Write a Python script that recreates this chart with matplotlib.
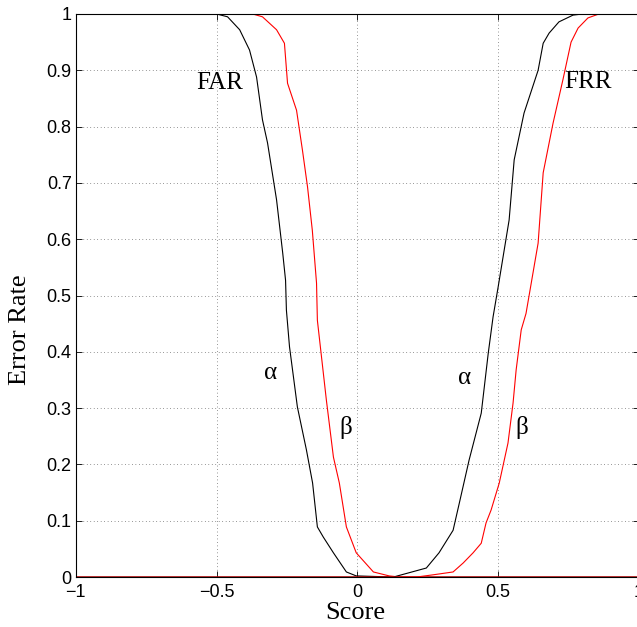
import matplotlib.pyplot as plt
import numpy as np

# FAR / FRR curves (score, error rate)
far_alpha_x = [-1.0, -0.5, -0.461, -0.418, -0.383, -0.358, -0.337, -0.319, -0.287, -0.265, -0.255,
               -0.252, -0.241, -0.213, -0.181, -0.159, -0.142, -0.121, -0.085, -0.039, -0.004, 0.128, 1.0]
far_alpha_y = [1.0, 1.0, 0.995, 0.972, 0.936, 0.888, 0.812, 0.771, 0.670, 0.575, 0.527,
               0.474, 0.409, 0.302, 0.226, 0.167, 0.089, 0.071, 0.043, 0.009, 0.002, 0.0, 0.0]

far_beta_x = [-1.0, -0.372, -0.337, -0.287, -0.259, -0.248, -0.216, -0.195, -0.177, -0.160, -0.145,
              -0.142, -0.110, -0.085, -0.064, -0.039, -0.004, 0.057, 0.113, 0.15, 1.0]
far_beta_y = [1.0, 1.0, 0.995, 0.972, 0.948, 0.877, 0.829, 0.758, 0.693, 0.616, 0.522,
              0.456, 0.314, 0.213, 0.167, 0.089, 0.043, 0.009, 0.002, 0.0, 0.0]

frr_alpha_x = [-1.0, 0.128, 0.245, 0.290, 0.340, 0.362, 0.397, 0.440, 0.465, 0.482, 0.500,
               0.539, 0.557, 0.592, 0.642, 0.660, 0.681, 0.716, 0.766, 0.800, 1.0]
frr_alpha_y = [0.0, 0.0, 0.016, 0.043, 0.083, 0.131, 0.208, 0.291, 0.398, 0.462, 0.515,
               0.634, 0.741, 0.824, 0.900, 0.948, 0.966, 0.986, 0.998, 1.0, 1.0]

frr_beta_x = [-1.0, 0.21, 0.270, 0.340, 0.376, 0.411, 0.440, 0.457, 0.475, 0.504, 0.535, 0.553,
              0.564, 0.582, 0.599, 0.642, 0.660, 0.695, 0.730, 0.759, 0.784, 0.819, 0.858, 1.0]
frr_beta_y = [0.0, 0.0, 0.004, 0.009, 0.025, 0.043, 0.060, 0.096, 0.119, 0.167, 0.238, 0.309,
              0.368, 0.439, 0.468, 0.593, 0.718, 0.806, 0.883, 0.950, 0.975, 0.993, 1.0, 1.0]

x_ticks = [-1, -0.5, 0, 0.5, 1]
x_tick_labels = ["\u22121", "\u22120.5", "0", "0.5", "1"]
y_ticks = [0, 0.1, 0.2, 0.3, 0.4, 0.5, 0.6, 0.7, 0.8, 0.9, 1.0]
y_tick_labels = ["0", "0.1", "0.2", "0.3", "0.4", "0.5", "0.6", "0.7", "0.8", "0.9", "1"]

serif = "Liberation Serif"
sans = "Liberation Sans"

fig = plt.figure(figsize=(6.37, 6.27), dpi=100)
ax = fig.add_axes([0.119, 0.0797, 0.884, 0.898])

ax.plot(far_alpha_x, far_alpha_y, color="black", lw=0.8)
ax.plot(far_beta_x, far_beta_y, color="red", lw=0.8)
ax.plot(frr_alpha_x, frr_alpha_y, color="black", lw=0.8)
ax.plot(frr_beta_x, frr_beta_y, color="red", lw=0.8)

ax.set_xlim(-1, 1)
ax.set_ylim(0, 1)
ax.set_xticks(x_ticks)
ax.set_xticklabels(x_tick_labels, fontfamily=sans, fontsize=13)
ax.set_yticks(y_ticks)
ax.set_yticklabels(y_tick_labels, fontfamily=sans, fontsize=13)
ax.tick_params(direction="in", top=True, right=True, length=4, width=0.6)
ax.tick_params(axis="y", pad=3)
ax.tick_params(axis="x", pad=5)
ax.grid(True, color="black", linestyle=(0, (1, 4)), linewidth=0.5, alpha=0.8)
for s in ax.spines.values():
    s.set_linewidth(0.8)

ax.set_xlabel("Score", fontfamily=serif, fontsize=19, va="center")
ax.set_ylabel("Error Rate", fontfamily=serif, fontsize=19, va="center")
ax.xaxis.set_label_coords(0.496, -0.064)
ax.yaxis.set_label_coords(-0.0995, 0.44)

ax.text(-0.571, 0.877, "FAR", fontfamily=serif, fontsize=18, va="center", ha="left")
ax.text(0.734, 0.879, "FRR", fontfamily=serif, fontsize=18, va="center", ha="left")
ax.text(-0.31, 0.362, "\u03b1", fontfamily=serif, fontsize=18, va="center", ha="center")
ax.text(-0.043, 0.265, "\u03b2", fontfamily=serif, fontsize=18, va="center", ha="center")
ax.text(0.38, 0.353, "\u03b1", fontfamily=serif, fontsize=18, va="center", ha="center")
ax.text(0.585, 0.266, "\u03b2", fontfamily=serif, fontsize=18, va="center", ha="center")

fig.savefig("out.png", dpi=100)
